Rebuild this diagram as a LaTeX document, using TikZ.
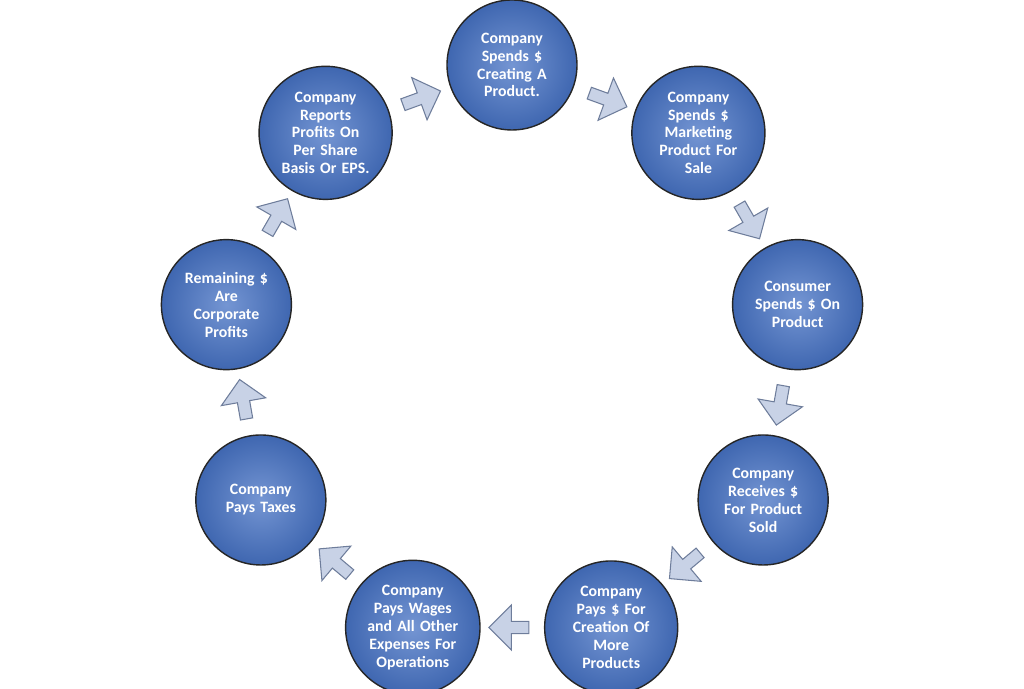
\documentclass[tikz,border=0pt]{standalone}
\usepackage{fontspec}
\setmainfont{Carlito}
\usetikzlibrary{shapes.arrows,calc}
\definecolor{stepblue}{RGB}{70,114,196}
\definecolor{stepedge}{RGB}{38,38,38}
\definecolor{arrowfill}{RGB}{200,210,230}
\definecolor{arrowedge}{RGB}{110,125,155}
\begin{document}
\begin{tikzpicture}
	    \tikzset{
	      stepnode/.style={circle, minimum size=2.6cm, inner sep=0pt, draw=stepedge, line width=0.8pt,
	        inner color=stepblue!75!white, outer color=stepblue!90!black, text=white,
	        font=\bfseries\fontsize{9}{10.2}\selectfont, align=center, text width=2.1cm},
	      steparrow/.style={single arrow, draw=arrowedge, fill=arrowfill, line width=0.6pt,
	        minimum height=0.8cm, minimum width=0.9cm, single arrow head extend=0.12cm, inner sep=1pt}
	    }
	    \useasboundingbox (0,0) rectangle (20.48,13.78);
	    \coordinate (O) at (10.24,6.68);
	    % circles around the ring
	    \foreach \i/\txt in {1/{Company\\Spends \$\\Creating A\\Product.},
	        2/{Company\\Spends \$\\Marketing\\Product For\\Sale},
	        3/{Consumer\\Spends \$ On\\Product},
	        4/{Company\\Receives \$\\For Product\\Sold},
	        5/{Company\\Pays \$ For\\Creation Of\\More\\Products},
	        6/{Company\\Pays Wages\\and All Other\\Expenses For\\Operations},
	        7/{Company\\Pays Taxes},
	        8/{Remaining \$\\Are\\Corporate\\Profits},
	        9/{Company\\Reports\\Profits On\\Per Share\\Basis Or EPS.}}
	      \node [stepnode] (c\i) at ($(O)+({130-40*\i}:5.8)$) {\txt};
	    % arrows between circles
	    \foreach \i in {1,...,9}
	      \node [steparrow, rotate={20-40*\i}] (a\i) at ($(O)+({110-40*\i}:5.45)$) {};
\end{tikzpicture}
\end{document}
